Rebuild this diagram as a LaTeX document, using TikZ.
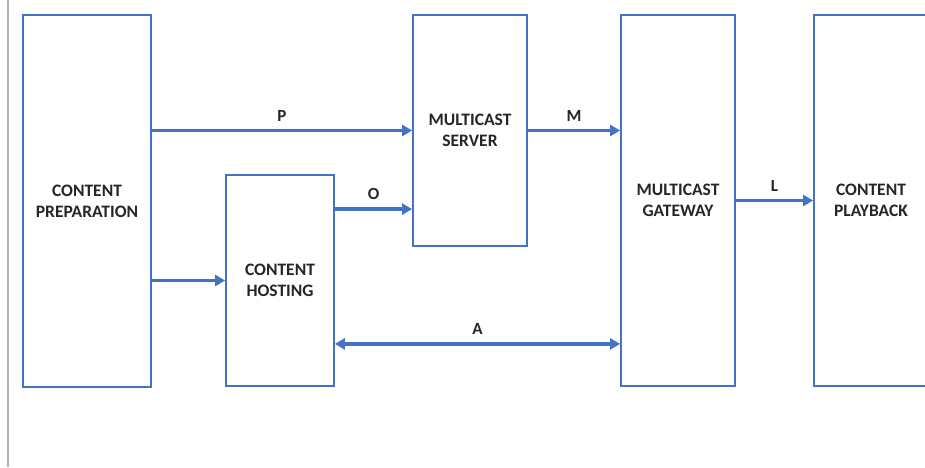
\documentclass[tikz,border=0pt]{standalone}
\usepackage{fontspec}
\setmainfont{Carlito}
\usetikzlibrary{arrows.meta}
\definecolor{azul}{RGB}{68,114,196}
\tikzset{
  bloque/.style={draw=azul, line width=1.8pt, fill=white, align=center,
    font=\fontsize{17.5}{21}\selectfont\bfseries, text=black!85},
  flecha/.style={draw=azul, line width=3.4pt, -{Triangle[length=10pt,width=11pt]}},
  etiqueta/.style={font=\fontsize{17}{18}\selectfont\bfseries, text=black!85, above=4pt},
}

\begin{document}
\begin{tikzpicture}[x=1pt,y=-1pt]
        \useasboundingbox (0,0) rectangle (925,467);

        % Borde
        \draw[black!30, line width=2pt] (8,0) -- (8,467);

        % Bloques
        \node[bloque, minimum width=128pt, minimum height=372pt] (prep) at (87,201) {CONTENT\\PREPARATION};
        \node[bloque, minimum width=108pt, minimum height=211pt] (host) at (280,280.5) {CONTENT\\HOSTING};
        \node[bloque, minimum width=114pt, minimum height=231pt] (srv) at (470,130.5) {MULTICAST\\SERVER};
        \node[bloque, minimum width=114pt, minimum height=371pt] (gw) at (678,200.5) {MULTICAST\\GATEWAY};
        \node[bloque, minimum width=114pt, minimum height=371pt] (play) at (871,200.5) {CONTENT\\PLAYBACK};

        % Flechas
        \coordinate (o) at ([yshift=-35pt]host.north east);
        \coordinate (a) at ([yshift=43pt]host.south east);
        \draw[flecha] (prep.east |- srv.west) -- node[etiqueta] {P} (srv.west);
        \draw[flecha] (prep.east |- host.west) -- (host.west);
        \draw[flecha] (o) -- node[etiqueta] {O} (o -| srv.west);
        \draw[flecha] (srv.east) -- node[etiqueta] {M} (srv.east -| gw.west);
        \draw[flecha] (gw.east) -- node[etiqueta] {L} (play.west);
        \draw[flecha, {Triangle[length=10pt,width=11pt]}-{Triangle[length=10pt,width=11pt]}] (a) -- node[etiqueta] {A} (a -| gw.west);
\end{tikzpicture}
\end{document}
